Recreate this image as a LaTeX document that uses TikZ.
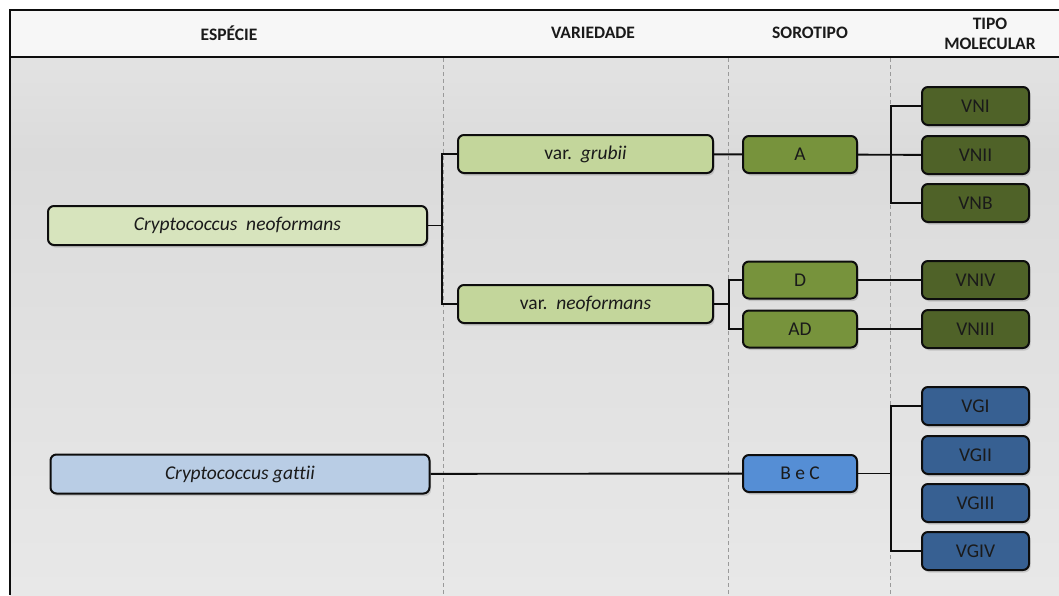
\documentclass[tikz,border=0pt]{standalone}
\usepackage{fontspec}
\setmainfont{Carlito}[Ligatures=NoCommon]
\usetikzlibrary{positioning,shadows}
\definecolor{ink}{HTML}{1A1A1A}
\definecolor{frame}{HTML}{0D0D0D}
\definecolor{guide}{HTML}{9A9A9A}
\definecolor{spneo}{HTML}{D7E4BD}
\definecolor{spgat}{HTML}{B9CDE5}
\definecolor{varc}{HTML}{C3D69B}
\definecolor{sero}{HTML}{77933C}
\definecolor{serob}{HTML}{558ED5}
\definecolor{mol}{HTML}{4F6228}
\definecolor{molb}{HTML}{376092}
\definecolor{bglight}{HTML}{F4F4F4}
\definecolor{bgdark}{HTML}{DBDBDB}
\definecolor{bgfoot}{HTML}{F0F0F0}
% 0bp is the bottom edge of the shaded area
\pgfdeclareverticalshading{bgfade}{100bp}{%
  color(0bp)=(bgfoot); color(66bp)=(bgdark); color(96bp)=(bglight); color(100bp)=(bglight)}
\tikzset{
  box/.style={
    draw=frame, line width=2pt, rounded corners=6pt, fill=#1,
    inner sep=0pt, align=center, text=ink, font=\fontsize{19.5}{22}\selectfont,
    drop shadow={shadow xshift=1.5pt, shadow yshift=-2.5pt, opacity=0.3}},
  spbox/.style={box=#1, minimum width=379pt, minimum height=39pt},
  varbox/.style={box=varc, minimum width=255pt, minimum height=38pt},
  serbox/.style={box=#1, minimum width=114pt, minimum height=37pt},
  molbox/.style={box=#1, minimum width=107pt, minimum height=38pt},
  ln/.style={draw=frame, line width=1.9pt},
  guideln/.style={draw=guide, line width=0.9pt, dash pattern=on 4pt off 3pt},
  hdr/.style={font=\fontsize{17.5}{20}\selectfont\bfseries, text=ink, align=center, inner sep=0pt},
}

\begin{document}
\begin{tikzpicture}[x=1pt, y=-1pt]
\useasboundingbox (0,0) rectangle (1059,595);

% =====================================================================
% frame, header band and background
\fill[white] (0,0) rectangle (1059,595);
\shade[shading=bgfade] (10,57) rectangle (1059,595);
\fill[black!3] (10,10) rectangle (1059,57);
\draw[frame, line width=2.2pt] (1059,10) -- (10,10) -- (10,595);
\draw[frame, line width=2.2pt] (10,57) -- (1059,57);

\foreach \x in {443, 728, 890}
  \draw[guideln] (\x,58) -- (\x,595);

\node[hdr] (hsp)  at (229,33) {ESPÉCIE};
\node[hdr] (hvar) at (593,33) {VARIEDADE};
\node[hdr] (hser) at (810,33) {SOROTIPO};
\node[hdr] (hmol) at (990,34) {TIPO\\MOLECULAR};

% =====================================================================
% species and varieties
\node[spbox=spneo] (neo) at (237.5,225.5) {\textit{Cryptococcus\ \ neoformans}};
\node[spbox=spgat] (gat) at (240,474)     {\textit{Cryptococcus gattii}};
\node[varbox] (grubii) at (585.5,154) {var.\hspace{0.45em}\textit{grubii}};
\node[varbox] (varneo) at (585.5,304) {var.\hspace{0.45em}\textit{neoformans}};

% serotypes
\node[serbox=sero]  (A)   at (800,154.5) {A};
\node[serbox=sero]  (D)   at (800,280)   {D};
\node[serbox=sero]  (AD)  at (800,329)   {AD};
\node[serbox=serob] (BeC) at (800,473.5) {B e C};

% molecular types
\node[molbox=mol] (VNI)   at (975.5,106) {VNI};
\node[molbox=mol] (VNII)  at (975.5,155) {VNII};
\node[molbox=mol] (VNB)   at (975.5,203) {VNB};
\node[molbox=mol] (VNIV)  at (975.5,280) {VNIV};
\node[molbox=mol] (VNIII) at (975.5,329) {VNIII};
\node[molbox=molb] (VGI)   at (975.5,406) {VGI};
\node[molbox=molb] (VGII)  at (975.5,455) {VGII};
\node[molbox=molb] (VGIII) at (975.5,503) {VGIII};
\node[molbox=molb] (VGIV)  at (975.5,551) {VGIV};

% =====================================================================
% connectors
\foreach \a/\b in {grubii/A, D/VNIV, AD/VNIII, gat/BeC, A/VNII}
  \draw[ln] (\a) -- (\b);

\foreach \b in {grubii, varneo}
  \draw[ln] (neo.east) -- ++(14,0) |- (\b.west);
\foreach \b in {D, AD}
  \draw[ln] (varneo.east) -- ++(15,0) |- (\b.west);
\foreach \b in {VNI, VNB}
  \draw[ln] (A.east) -- ++(33,0) |- (\b.west);
\foreach \b in {VGI, VGIV}
  \draw[ln] (BeC.east) -- ++(33,0) |- (\b.west);

\end{tikzpicture}
\end{document}
